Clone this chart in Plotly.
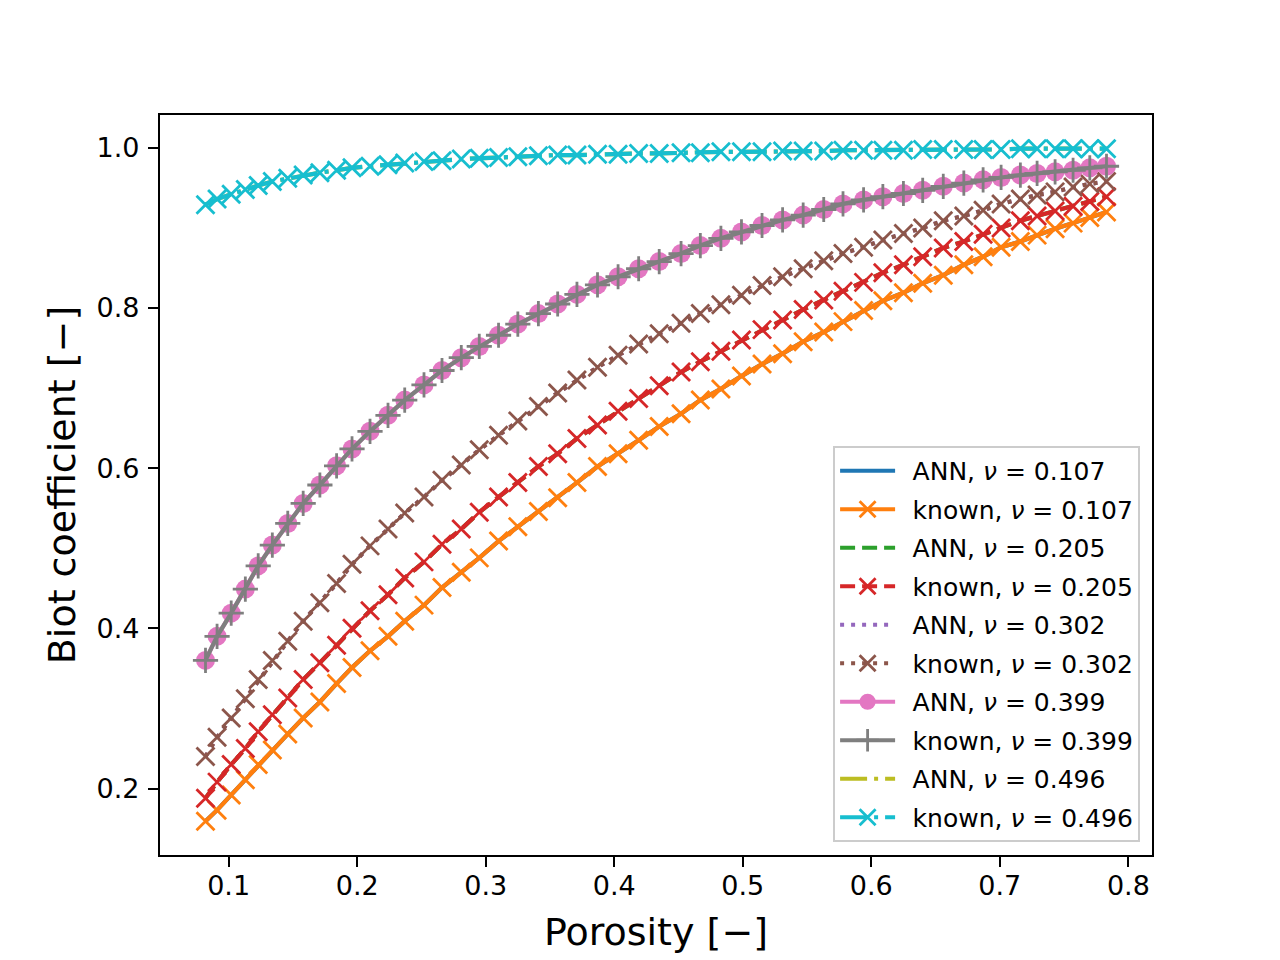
import plotly.graph_objects as go

# porosity values shared by every curve
porosity = [0.082, 0.091, 0.102, 0.113, 0.123, 0.134, 0.146, 0.158, 0.171, 0.184,
            0.196, 0.210, 0.224, 0.237, 0.252, 0.266, 0.281, 0.295, 0.310, 0.325,
            0.341, 0.356, 0.371, 0.387, 0.403, 0.419, 0.435, 0.452, 0.467, 0.483,
            0.499, 0.515, 0.531, 0.547, 0.563, 0.578, 0.594, 0.609, 0.625, 0.640,
            0.656, 0.672, 0.687, 0.701, 0.716, 0.729, 0.743, 0.757, 0.770, 0.783]

# known Biot coefficients for each Poisson ratio
known_107 = [0.159, 0.173, 0.192, 0.211, 0.230, 0.248, 0.268, 0.288, 0.308, 0.331,
             0.351, 0.372, 0.390, 0.409, 0.429, 0.451, 0.470, 0.488, 0.509, 0.527,
             0.546, 0.563, 0.582, 0.602, 0.618, 0.635, 0.652, 0.668, 0.685, 0.699,
             0.715, 0.730, 0.743, 0.758, 0.770, 0.783, 0.797, 0.809, 0.819, 0.831,
             0.841, 0.854, 0.864, 0.876, 0.883, 0.891, 0.899, 0.906, 0.913, 0.920]

known_205 = [0.188, 0.208, 0.230, 0.250, 0.271, 0.292, 0.313, 0.336, 0.357, 0.379,
             0.400, 0.422, 0.442, 0.463, 0.483, 0.505, 0.524, 0.545, 0.564, 0.582,
             0.602, 0.618, 0.637, 0.654, 0.671, 0.687, 0.703, 0.720, 0.733, 0.746,
             0.760, 0.773, 0.785, 0.798, 0.810, 0.821, 0.832, 0.844, 0.854, 0.864,
             0.875, 0.883, 0.892, 0.900, 0.909, 0.915, 0.921, 0.927, 0.933, 0.939]

known_302 = [0.240, 0.264, 0.288, 0.312, 0.336, 0.360, 0.384, 0.409, 0.432, 0.456,
             0.480, 0.503, 0.524, 0.544, 0.564, 0.585, 0.604, 0.623, 0.641, 0.659,
             0.677, 0.694, 0.710, 0.726, 0.741, 0.755, 0.768, 0.781, 0.793, 0.804,
             0.816, 0.828, 0.839, 0.849, 0.859, 0.868, 0.876, 0.885, 0.893, 0.900,
             0.909, 0.915, 0.922, 0.930, 0.936, 0.941, 0.945, 0.951, 0.955, 0.958]

known_399 = [0.360, 0.390, 0.419, 0.449, 0.478, 0.504, 0.531, 0.556, 0.579, 0.603,
             0.624, 0.646, 0.666, 0.685, 0.704, 0.722, 0.738, 0.752, 0.766, 0.780,
             0.793, 0.805, 0.817, 0.829, 0.839, 0.849, 0.858, 0.868, 0.878, 0.887,
             0.895, 0.903, 0.910, 0.916, 0.923, 0.930, 0.935, 0.939, 0.943, 0.947,
             0.952, 0.956, 0.960, 0.963, 0.966, 0.968, 0.970, 0.972, 0.975, 0.977]

known_496 = [0.929, 0.936, 0.942, 0.948, 0.953, 0.958, 0.962, 0.966, 0.969, 0.972,
             0.975, 0.977, 0.979, 0.981, 0.983, 0.984, 0.986, 0.987, 0.988, 0.989,
             0.990, 0.991, 0.991, 0.992, 0.992, 0.993, 0.993, 0.994, 0.994, 0.995,
             0.995, 0.995, 0.996, 0.996, 0.996, 0.997, 0.997, 0.997, 0.997, 0.998,
             0.998, 0.998, 0.998, 0.998, 0.999, 0.999, 0.999, 0.999, 0.999, 0.999]

# ANN predictions sit right on top of the known curves at this resolution
ann_107 = list(known_107)
ann_205 = list(known_205)
ann_302 = list(known_302)
ann_399 = list(known_399)
ann_496 = list(known_496)

nu_labels = ["0.107", "0.205", "0.302", "0.399", "0.496"]

DASHED = "15px,7px"
DOTTED = "4px,7px"
DASHDOT = "27px,7px,4px,7px"

# (label, values, colour, dash, marker symbol)
series = [
    ("ANN", ann_107, "#1f77b4", "solid", None),
    ("known", known_107, "#ff7f0e", "solid", "x-thin"),
    ("ANN", ann_205, "#2ca02c", DASHED, None),
    ("known", known_205, "#d62728", DASHED, "x-thin"),
    ("ANN", ann_302, "#9467bd", DOTTED, None),
    ("known", known_302, "#8c564b", DOTTED, "x-thin"),
    ("ANN", ann_399, "#e377c2", "solid", "circle"),
    ("known", known_399, "#7f7f7f", "solid", "cross-thin"),
    ("ANN", ann_496, "#bcbd22", DASHDOT, None),
    ("known", known_496, "#17becf", DASHDOT, "x-thin"),
]

fig = go.Figure()
for i, (kind, vals, color, dash, symbol) in enumerate(series):
    # en space keeps the label clear of the legend handle
    name = f"\u2002{kind}, <i>ν</i> = {nu_labels[i // 2]}"
    if symbol is None:
        mode = "lines"
        marker = None
    elif symbol == "circle":
        mode = "lines+markers"
        marker = dict(symbol="circle", size=19, color=color, line=dict(width=0))
    else:
        mode = "lines+markers"
        marker = dict(symbol=symbol, size=18, color=color,
                      line=dict(width=2.8, color=color))
    fig.add_trace(go.Scatter(x=porosity, y=vals, mode=mode, name=name,
                             legendgroup=f"g{i}",
                             line=dict(color=color, width=4.2, dash=dash),
                             marker=marker))

axis_style = dict(showline=True, mirror=True, linecolor="black", linewidth=2.2,
                  ticks="outside", ticklen=10, tickwidth=2.2, tickcolor="black",
                  showgrid=False, zeroline=False, tickformat=".1f",
                  automargin=False,
                  tickfont=dict(family="DejaVu Sans", size=27, color="black"))

fig.update_xaxes(range=[0.0466, 0.8184], tickvals=[0.1, 0.2, 0.3, 0.4, 0.5, 0.6, 0.7, 0.8],
                 ticklabelstandoff=-5,
                 title=dict(text="Porosity [−]", standoff=19,
                            font=dict(family="DejaVu Sans", size=38, color="black")),
                 **axis_style)
fig.update_yaxes(range=[0.117, 1.041], tickvals=[0.2, 0.4, 0.6, 0.8, 1.0],
                 ticklabelstandoff=3,
                 title=dict(text="Biot coefficient [−]", standoff=9,
                            font=dict(family="DejaVu Sans", size=38, color="black")),
                 **axis_style)

# the page body adds an 8px offset, so the figure is trimmed to fit the window
fig.update_layout(
    width=1272, height=952,
    margin=dict(l=152, r=128, t=107, b=105),
    paper_bgcolor="white", plot_bgcolor="white",
    font=dict(family="DejaVu Sans", color="black"),
    showlegend=True,
    legend=dict(x=0.988, y=0.0176, xanchor="right", yanchor="bottom",
                traceorder="grouped", tracegroupgap=3, itemwidth=55,
                bgcolor="rgba(255,255,255,0.8)", bordercolor="#cccccc", borderwidth=2,
                font=dict(family="DejaVu Sans", size=25, color="black")),
)

fig.write_html("out.html")
